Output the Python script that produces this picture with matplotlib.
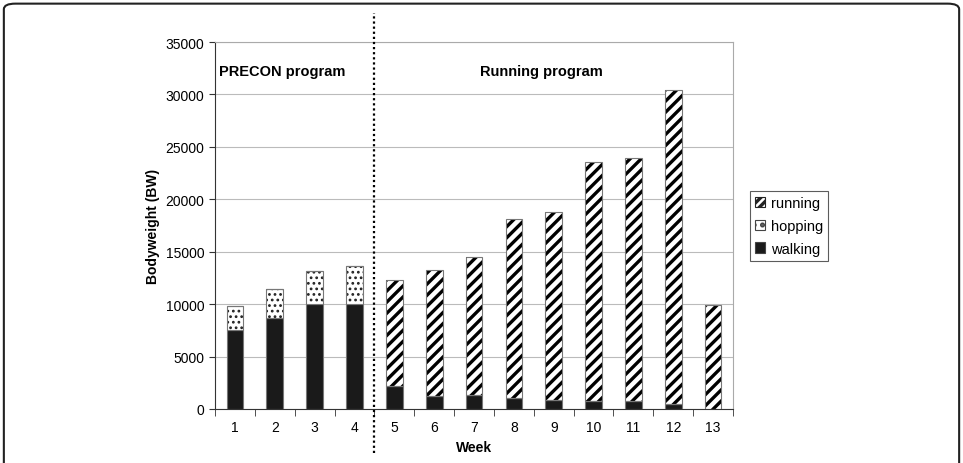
import matplotlib
matplotlib.use("Agg")
import matplotlib.pyplot as plt
from matplotlib.patches import FancyBboxPatch, Patch
import numpy as np

plt.rcParams['font.family'] = ['Liberation Sans', 'DejaVu Sans']
plt.rcParams['hatch.linewidth'] = 2.4

weeks = ['1', '2', '3', '4', '5', '6', '7', '8', '9', '10', '11', '12', '13']
walking = [7500, 8700, 10000, 10000, 2200, 1200, 1300, 1050, 900, 800, 800, 500, 0]
hopping = [2300, 2750, 3150, 3600, 0, 0, 0, 0, 0, 0, 0, 0, 0]
running = [0, 0, 0, 0, 10100, 12100, 13200, 17050, 17900, 22800, 23150, 29900, 9950]

fig = plt.figure(figsize=(9.63, 4.64), dpi=100)
ax = fig.add_axes([0.2233, 0.1164, 0.5379, 0.7909])

x = np.arange(len(weeks))
w = 0.42
walk = np.array(walking)
hop = np.array(hopping)
run = np.array(running)

ax.bar(x, walk, w, color='#1a1a1a', edgecolor='#777777', lw=0.8, zorder=3)

# hatch drawn in black, then a grey outline on top
hb = ax.bar(x, hop, w, bottom=walk, color='white', edgecolor='#222222', lw=0,
            hatch='...', zorder=3)
for p in hb:
    if hasattr(p, 'set_hatch_linewidth'):
        p.set_hatch_linewidth(1.2)
ax.bar(x, hop, w, bottom=walk, fill=False, edgecolor='#777777', lw=0.8, zorder=4)

ax.bar(x, run, w, bottom=walk + hop, color='white', edgecolor='black', lw=0,
       hatch='///', zorder=3)
ax.bar(x, run, w, bottom=walk + hop, fill=False, edgecolor='#777777', lw=0.8, zorder=4)

ax.set_xlim(-0.5, len(weeks) - 0.5)
ax.set_ylim(0, 35000)
ax.set_yticks(np.arange(0, 35001, 5000))
ax.set_xticks(x)
ax.set_xticklabels(weeks)
ax.set_xticks(np.arange(-0.5, len(weeks), 1), minor=True)
ax.tick_params(axis='x', which='major', length=0, pad=8, labelsize=10)
ax.tick_params(axis='x', which='minor', length=5, color='#333333')
ax.tick_params(axis='y', length=4, labelsize=10, color='#333333')
ax.grid(axis='y', color='#bbbbbb', lw=0.8, zorder=0)
ax.spines['left'].set_color('#333333')
ax.spines['bottom'].set_color('#333333')
ax.spines['right'].set_color('#aaaaaa')
ax.spines['top'].set_color('#aaaaaa')

ax.set_ylabel('Bodyweight (BW)', fontweight='bold', fontsize=10)
ax.set_xlabel('Week', fontweight='bold', fontsize=10, labelpad=4)

ax.axvline(3.5, ymin=-0.12, ymax=1.08, color='black', ls=(0, (1, 1.3)), lw=1.6,
           clip_on=False, zorder=5)

ax.text(-0.4, 32200, 'PRECON program', fontweight='bold', fontsize=10.5, ha='left', va='center')
ax.text(7.7, 32200, 'Running program', fontweight='bold', fontsize=10.5, ha='center', va='center')

handles = [
    Patch(facecolor='white', edgecolor='#222222', hatch='////', lw=0.8, label='running'),
    Patch(facecolor='white', edgecolor='#444444', hatch='..', lw=0.8, label='hopping'),
    Patch(facecolor='#1a1a1a', edgecolor='#444444', lw=0.8, label='walking'),
]
leg = fig.legend(handles=handles, loc='upper left', bbox_to_anchor=(0.771, 0.602),
                 frameon=True, fancybox=False, edgecolor='#333333', fontsize=10.5,
                 handlelength=0.7, handleheight=0.7, handletextpad=0.4,
                 labelspacing=0.6, borderpad=0.35)
leg.get_frame().set_linewidth(0.8)

border = FancyBboxPatch((0.004, -0.05), 0.992, 1.04, boxstyle='round,pad=0,rounding_size=0.012',
                        transform=fig.transFigure, fill=False, edgecolor='#222222', lw=1.5)
fig.patches.append(border)

fig.savefig('out.png', dpi=100)
